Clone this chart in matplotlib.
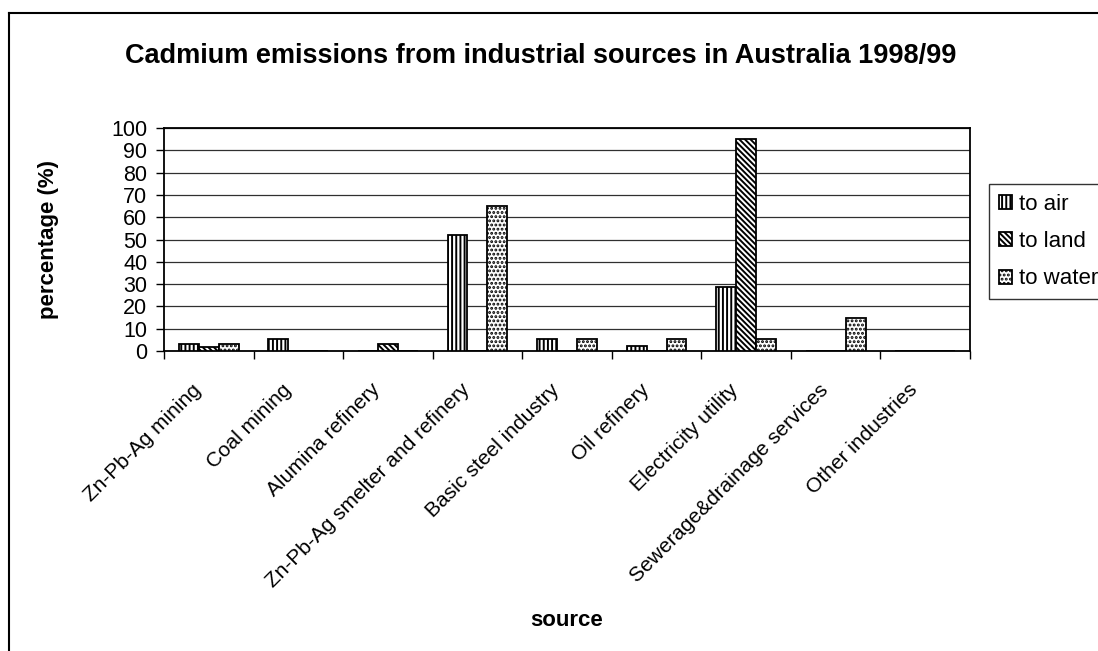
import matplotlib
matplotlib.use("Agg")
import matplotlib.pyplot as plt
from matplotlib.lines import Line2D
import matplotlib.transforms as mtransforms
import numpy as np

categories = ["Zn-Pb-Ag mining", "Coal mining", "Alumina refinery",
              "Zn-Pb-Ag smelter and refinery", "Basic steel industry",
              "Oil refinery", "Electricity utility",
              "Sewerage&drainage services", "Other industries"]
to_air = [3.3, 5.5, 0, 52, 5.5, 2.4, 28.5, 0, 0]
to_land = [2, 0, 3.3, 0, 0, 0, 95, 0, 0]
to_water = [3.3, 0, 0, 65, 5.5, 5.5, 5.5, 15, 0]
series_names = ["to air", "to land", "to water"]
y_ticks = list(range(0, 101, 10))

plt.rcParams['font.family'] = ['Liberation Sans', 'DejaVu Sans']
plt.rcParams['hatch.linewidth'] = 1.4

W, H = 1098, 651
fig = plt.figure(figsize=(W/100, H/100), dpi=100)
ax = fig.add_axes([164/W, 1-351/H, (970-164)/W, (351-128)/H])

x = np.arange(len(categories))
bw = 1/4.5
hatches = ['||||', '\\\\\\\\\\\\', '....']
series = [to_air, to_land, to_water]
handles = []
for i, (vals, name, h) in enumerate(zip(series, series_names, hatches)):
    b = ax.bar(x + (i-1)*bw, vals, bw, facecolor='white', edgecolor='black',
               linewidth=1.3, hatch=h, label=name, zorder=3)
    handles.append(b)

ax.set_xlim(-0.5, len(categories)-0.5)
ax.set_ylim(0, 100)
ax.set_yticks(y_ticks)
ax.set_yticklabels([str(t) for t in y_ticks], fontsize=15.5)
ax.yaxis.grid(True, color='#303030', linewidth=0.9, zorder=0)
ax.set_axisbelow(True)
ax.tick_params(axis='y', direction='out', length=6, width=1, pad=6)

ax.set_xticks(x)
ax.set_xticklabels(categories, rotation=45, ha='right', rotation_mode='anchor', fontsize=15)
ax.set_xticks(np.arange(-0.5, len(categories), 1), minor=True)
ax.tick_params(axis='x', which='major', length=0, pad=21)
ax.tick_params(axis='x', which='minor', direction='out', length=6, width=1)
offset = mtransforms.ScaledTranslation(-17/100, 0, fig.dpi_scale_trans)
for lab in ax.get_xticklabels():
    lab.set_transform(lab.get_transform() + offset)

for s in ax.spines.values():
    s.set_linewidth(1.3)
    s.set_color('black')

ax.set_ylabel("percentage (%)", fontsize=16, fontweight='bold')
ax.yaxis.set_label_coords((48-164)/806, 0.5)
ax.set_xlabel("source", fontsize=16, fontweight='bold')
ax.xaxis.set_label_coords(0.5, (351-620)/(351-128))
ax.xaxis.label.set_va('center')
ax.yaxis.label.set_va('center')

fig.text(541/W, 1-56/H, "Cadmium emissions from industrial sources in Australia 1998/99",
         ha='center', va='center', fontsize=19.5, fontweight='bold')

leg = fig.legend(handles=handles, labels=series_names, loc='upper left',
                 bbox_to_anchor=(989/W, 1-184/H), borderaxespad=0,
                 fontsize=16, frameon=True, fancybox=False, edgecolor='black',
                 handlelength=0.6, handleheight=0.6, handletextpad=0.3,
                 labelspacing=0.73, borderpad=0.45)
leg.get_frame().set_linewidth(1.0)

fig.add_artist(Line2D([9/W, 9/W], [1-13/H, -0.1], color='black', linewidth=1.5))
fig.add_artist(Line2D([9/W, 1.1], [1-13/H, 1-13/H], color='black', linewidth=1.5))

fig.savefig("out.png", dpi=100)
